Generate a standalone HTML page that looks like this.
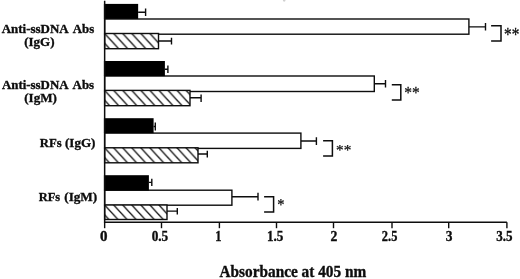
<!DOCTYPE html>
<html><head><meta charset="utf-8"><style>
html,body{margin:0;padding:0;background:#fff;width:520px;height:279px;overflow:hidden}
svg{display:block;will-change:transform}
text{font-family:"Liberation Serif",serif;fill:#0d0d0d}
</style></head><body>
<svg width="520" height="279" viewBox="0 0 520 279">
<defs><pattern id="h0" patternUnits="userSpaceOnUse" width="9.05" height="9.84" patternTransform="translate(104.65,33.50)"><rect width="9.05" height="9.84" fill="#fff"/><path d="M-9.05,-9.84L18.10,19.68M-18.10,-9.84L9.05,19.68M0,-9.84L27.15,19.68" stroke="#0d0d0d" stroke-width="1.3"/></pattern><pattern id="h1" patternUnits="userSpaceOnUse" width="9.05" height="9.84" patternTransform="translate(104.65,90.40)"><rect width="9.05" height="9.84" fill="#fff"/><path d="M-9.05,-9.84L18.10,19.68M-18.10,-9.84L9.05,19.68M0,-9.84L27.15,19.68" stroke="#0d0d0d" stroke-width="1.3"/></pattern><pattern id="h2" patternUnits="userSpaceOnUse" width="9.05" height="9.84" patternTransform="translate(104.65,147.80)"><rect width="9.05" height="9.84" fill="#fff"/><path d="M-9.05,-9.84L18.10,19.68M-18.10,-9.84L9.05,19.68M0,-9.84L27.15,19.68" stroke="#0d0d0d" stroke-width="1.3"/></pattern><pattern id="h3" patternUnits="userSpaceOnUse" width="9.05" height="9.84" patternTransform="translate(104.65,205.00)"><rect width="9.05" height="9.84" fill="#fff"/><path d="M-9.05,-9.84L18.10,19.68M-18.10,-9.84L9.05,19.68M0,-9.84L27.15,19.68" stroke="#0d0d0d" stroke-width="1.3"/></pattern></defs>
<path d="M468.90,26.90H485.50M485.50,23.10V30.60" stroke="#0d0d0d" stroke-width="1.4" fill="none"/>
<rect x="104.65" y="19.00" width="364.25" height="15.20" fill="#fff" stroke="#0d0d0d" stroke-width="1.4"/>
<path d="M158.50,41.00H171.50M171.50,37.70V44.60" stroke="#0d0d0d" stroke-width="1.4" fill="none"/>
<rect x="104.65" y="33.50" width="53.85" height="15.20" fill="url(#h0)" stroke="#0d0d0d" stroke-width="1.4"/>
<path d="M138.15,12.30H145.60M145.60,8.60V15.90" stroke="#0d0d0d" stroke-width="1.4" fill="none"/>
<rect x="103.90" y="3.90" width="34.25" height="15.00" fill="#000"/>
<path d="M491.10,25.80H501.00V41.00H491.10" stroke="#0d0d0d" stroke-width="1.5" fill="none"/>
<path d="M374.30,83.80H385.50M385.50,80.00V87.50" stroke="#0d0d0d" stroke-width="1.4" fill="none"/>
<rect x="104.65" y="76.00" width="269.65" height="15.50" fill="#fff" stroke="#0d0d0d" stroke-width="1.4"/>
<path d="M190.00,97.80H201.10M201.10,94.50V101.90" stroke="#0d0d0d" stroke-width="1.4" fill="none"/>
<rect x="104.65" y="90.40" width="85.35" height="15.30" fill="url(#h1)" stroke="#0d0d0d" stroke-width="1.4"/>
<path d="M164.90,69.30H167.90M167.90,65.50V72.90" stroke="#0d0d0d" stroke-width="1.4" fill="none"/>
<rect x="103.90" y="61.00" width="61.00" height="15.10" fill="#000"/>
<path d="M391.80,84.80H400.80V99.90H391.80" stroke="#0d0d0d" stroke-width="1.5" fill="none"/>
<path d="M300.90,141.00H316.40M316.40,137.20V144.90" stroke="#0d0d0d" stroke-width="1.4" fill="none"/>
<rect x="104.65" y="133.10" width="196.25" height="15.30" fill="#fff" stroke="#0d0d0d" stroke-width="1.4"/>
<path d="M198.00,154.00H207.30M207.30,150.80V157.60" stroke="#0d0d0d" stroke-width="1.4" fill="none"/>
<rect x="104.65" y="147.80" width="93.35" height="15.00" fill="url(#h2)" stroke="#0d0d0d" stroke-width="1.4"/>
<path d="M153.60,126.50H155.30M155.30,122.50V130.60" stroke="#0d0d0d" stroke-width="1.4" fill="none"/>
<rect x="103.90" y="118.20" width="49.70" height="14.90" fill="#000"/>
<path d="M323.10,140.80H332.40V156.00H323.10" stroke="#0d0d0d" stroke-width="1.5" fill="none"/>
<path d="M231.90,196.80H258.00M258.00,192.80V200.50" stroke="#0d0d0d" stroke-width="1.4" fill="none"/>
<rect x="104.65" y="190.20" width="127.25" height="15.00" fill="#fff" stroke="#0d0d0d" stroke-width="1.4"/>
<path d="M167.00,211.10H177.30M177.30,208.00V214.60" stroke="#0d0d0d" stroke-width="1.4" fill="none"/>
<rect x="104.65" y="205.00" width="62.35" height="14.50" fill="url(#h3)" stroke="#0d0d0d" stroke-width="1.4"/>
<path d="M148.90,182.40H151.80M151.80,178.80V186.10" stroke="#0d0d0d" stroke-width="1.4" fill="none"/>
<rect x="103.90" y="175.20" width="45.00" height="15.40" fill="#000"/>
<path d="M264.10,196.70H273.60V212.00H264.10" stroke="#0d0d0d" stroke-width="1.5" fill="none"/>
<ellipse cx="284.2" cy="0.6" rx="1.3" ry="1.1" fill="#d0d0d0"/>
<path d="M104.65,0.8V222.3H506.9" stroke="#0d0d0d" stroke-width="1.5" fill="none"/>
<path d="M104.65,222.3V228.2" stroke="#0d0d0d" stroke-width="1.4"/>
<path d="M161.5,222.3V228.2" stroke="#0d0d0d" stroke-width="1.4"/>
<path d="M219.4,222.3V228.2" stroke="#0d0d0d" stroke-width="1.4"/>
<path d="M276.5,222.3V228.2" stroke="#0d0d0d" stroke-width="1.4"/>
<path d="M333.5,222.3V228.2" stroke="#0d0d0d" stroke-width="1.4"/>
<path d="M392.0,222.3V228.2" stroke="#0d0d0d" stroke-width="1.4"/>
<path d="M448.7,222.3V228.2" stroke="#0d0d0d" stroke-width="1.4"/>
<path d="M506.9,222.3V228.2" stroke="#0d0d0d" stroke-width="1.4"/>
<text transform="translate(1.70,32.70) scale(0.9745,1.0000)" style="font-weight:bold;stroke:#0d0d0d;stroke-width:0.35px;font-size:13.3px">Anti-ssDNA</text>
<text transform="translate(72.80,32.70) scale(0.9682,1.0000)" style="font-weight:bold;stroke:#0d0d0d;stroke-width:0.35px;font-size:13.3px">Abs</text>
<text transform="translate(24.23,45.80) scale(0.9785,1.0000)" style="font-weight:bold;stroke:#0d0d0d;stroke-width:0.35px;font-size:13.3px">(IgG)</text>
<text transform="translate(1.90,88.60) scale(0.9702,1.0000)" style="font-weight:bold;stroke:#0d0d0d;stroke-width:0.35px;font-size:13.3px">Anti-ssDNA</text>
<text transform="translate(72.60,88.60) scale(0.9727,1.0000)" style="font-weight:bold;stroke:#0d0d0d;stroke-width:0.35px;font-size:13.3px">Abs</text>
<text transform="translate(24.23,101.60) scale(0.9846,1.0000)" style="font-weight:bold;stroke:#0d0d0d;stroke-width:0.35px;font-size:13.3px">(IgM)</text>
<text transform="translate(39.80,147.10) scale(0.9538,1.0000)" style="font-weight:bold;stroke:#0d0d0d;stroke-width:0.35px;font-size:13.3px">RFs</text>
<text transform="translate(64.93,147.10) scale(0.9851,1.0000)" style="font-weight:bold;stroke:#0d0d0d;stroke-width:0.35px;font-size:13.3px">(IgG)</text>
<text transform="translate(38.70,200.80) scale(0.9363,1.0000)" style="font-weight:bold;stroke:#0d0d0d;stroke-width:0.35px;font-size:13.3px">RFs</text>
<text transform="translate(64.23,200.80) scale(0.9938,1.0000)" style="font-weight:bold;stroke:#0d0d0d;stroke-width:0.35px;font-size:13.3px">(IgM)</text>
<text transform="translate(219.50,276.50) scale(0.9699,1.0000)" style="font-weight:bold;stroke:#0d0d0d;stroke-width:0.35px;font-size:15.8px">Absorbance at 405 nm</text>
<text transform="translate(99.89,240.70) scale(1.0939,1.0000)" style="font-weight:bold;stroke:#0d0d0d;stroke-width:0.35px;font-size:13.7px">0</text>
<text transform="translate(151.64,240.70) scale(0.9649,1.0000)" style="font-weight:bold;stroke:#0d0d0d;stroke-width:0.35px;font-size:13.7px">0.5</text>
<text transform="translate(215.20,240.70) scale(0.9091,1.0000)" style="font-weight:bold;stroke:#0d0d0d;stroke-width:0.35px;font-size:13.7px">1</text>
<text transform="translate(266.96,240.70) scale(0.9575,1.0000)" style="font-weight:bold;stroke:#0d0d0d;stroke-width:0.35px;font-size:13.7px">1.5</text>
<text transform="translate(330.43,240.70) scale(1.0000,1.0000)" style="font-weight:bold;stroke:#0d0d0d;stroke-width:0.35px;font-size:13.7px">2</text>
<text transform="translate(381.86,240.70) scale(0.9038,1.0000)" style="font-weight:bold;stroke:#0d0d0d;stroke-width:0.35px;font-size:13.7px">2.5</text>
<text transform="translate(445.73,240.70) scale(0.9796,1.0000)" style="font-weight:bold;stroke:#0d0d0d;stroke-width:0.35px;font-size:13.7px">3</text>
<text transform="translate(496.14,240.70) scale(0.9527,1.0000)" style="font-weight:bold;stroke:#0d0d0d;stroke-width:0.35px;font-size:13.7px">3.5</text>
<text transform="translate(504.10,40.87) scale(0.9559,1.1265)" style="stroke:#0d0d0d;stroke-width:0.25px;font-size:16px">**</text>
<text transform="translate(404.29,97.80) scale(0.9695,1.0449)" style="stroke:#0d0d0d;stroke-width:0.25px;font-size:16px">**</text>
<text transform="translate(336.10,154.83) scale(0.9559,0.9633)" style="stroke:#0d0d0d;stroke-width:0.25px;font-size:16px">**</text>
<text transform="translate(277.14,210.28) scale(0.9037,0.9959)" style="stroke:#0d0d0d;stroke-width:0.25px;font-size:16px">*</text>
</svg>
</body></html>
